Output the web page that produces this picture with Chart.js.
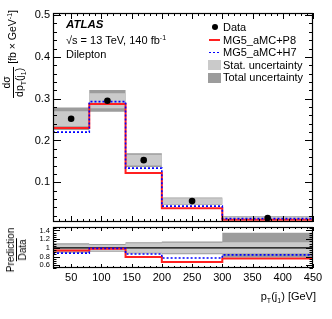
<!DOCTYPE html>
<html>
<head>
<meta charset="utf-8">
<script src="https://cdn.jsdelivr.net/npm/chart.js@4.4.0/dist/chart.umd.min.js"></script>
<style>
body{margin:0;background:#fff;width:332px;height:319px;position:relative;overflow:hidden;font-family:"Liberation Sans",Arial,sans-serif;color:#000}
canvas{position:absolute;left:0;top:0}
.t{position:absolute;white-space:nowrap;font-size:11px;line-height:12px}
.rot{position:absolute;white-space:nowrap;transform-origin:0 0;transform:rotate(-90deg) translateX(-100%)}
.rotc{position:absolute;white-space:nowrap;transform-origin:0 0;transform:rotate(-90deg) translateX(-50%)}
.frac{display:inline-flex;flex-direction:column;align-items:center;vertical-align:middle;line-height:1.1}
.den{border-top:1px solid #000;padding:0 1px}
sub{font-size:7px;vertical-align:-3px;line-height:0}
sup{font-size:7px;vertical-align:4px;line-height:0}
.mk{position:absolute}
</style>
</head>
<body>
<canvas id="mainChart" width="332" height="319"></canvas>
<canvas id="ratioChart" width="332" height="319"></canvas>

<div class="t" style="left:66px;top:18px;font-weight:bold;font-style:italic;font-size:11.5px">ATLAS</div>
<div class="t" style="left:66px;top:34px">√s = 13 TeV, 140 fb<sup>-1</sup></div>
<div class="t" style="left:66px;top:48px">Dilepton</div>

<div class="mk" style="left:212px;top:24px;width:6px;height:6px;border-radius:50%;background:#000"></div>
<div class="t" style="left:223px;top:21px">Data</div>
<div class="mk" style="left:209px;top:38.5px;width:11px;height:2px;background:#ff2020"></div>
<div class="t" style="left:223px;top:33.6px">MG5_aMC+P8</div>
<div class="mk" style="left:209px;top:51.5px;width:11px;height:1.5px;background:repeating-linear-gradient(90deg,#0000ff 0 2px,transparent 2px 4px)"></div>
<div class="t" style="left:223px;top:46.2px">MG5_aMC+H7</div>
<div class="mk" style="left:208px;top:60px;width:13px;height:10px;background:#cacaca"></div>
<div class="t" style="left:223px;top:58.8px">Stat. uncertainty</div>
<div class="mk" style="left:208px;top:72.5px;width:13px;height:10px;background:#9c9c9c"></div>
<div class="t" style="left:223px;top:71.4px">Total uncertainty</div>

<div class="rot" style="left:1px;top:10px;font-size:10.5px">
  <span class="frac"><span>dσ</span><span class="den">dp<sub>T</sub>(j<sub>1</sub>)</span></span> [fb × GeV<sup>-1</sup>]
</div>
<div class="rotc" style="left:5px;top:250px;font-size:10px">
  <span class="frac"><span>Prediction</span><span class="den">Data</span></span>
</div>
<div class="t" style="right:16px;top:290px">p<sub>T</sub>(j<sub>1</sub>) [GeV]</div>

<script>
// bins and values
const edges = [20, 80, 140, 200, 300, 450];
const binCenters = [50, 110, 170, 250, 375];
const dataVals = [0.252, 0.295, 0.153, 0.055, 0.0145];
const mgP8 = [0.230, 0.287, 0.122, 0.038, 0.0105];
const mgH7 = [0.220, 0.293, 0.134, 0.043, 0.0130];
const statErr = [0.018, 0.018, 0.013, 0.007, 0.0025];
const totErr = [0.027, 0.026, 0.0165, 0.0085, 0.0045];

const ratioP8 = [0.94, 0.98, 0.79, 0.68, 0.76];
const ratioH7 = [0.88, 0.99, 0.86, 0.77, 0.84];
const ratioStat = [0.08, 0.07, 0.11, 0.12, 0.13];
const ratioTotUp = [0.11, 0.09, 0.13, 0.145, 0.35];
const ratioTotDown = [0.11, 0.09, 0.13, 0.145, 0.22];

const xTicks = [50, 100, 150, 200, 250, 300, 350, 400, 450];
const yTicks = [0.1, 0.2, 0.3, 0.4, 0.5];
const ratioTicks = [0.6, 0.8, 1, 1.2, 1.4];

const FONT = "'Liberation Sans', Arial, sans-serif";
Chart.defaults.font.family = FONT;
Chart.defaults.color = '#000';

const STAT = '#cacaca', TOTAL = '#9c9c9c', RED = '#ff2020', BLUE = '#0000ff';

// histogram outline as x/y points (edges doubled)
function steps(vals){
  const pts = [];
  vals.forEach((v,i)=>{ pts.push({x:edges[i],y:v}); pts.push({x:edges[i+1],y:v}); });
  return pts;
}
const plus = (a,b,s)=>a.map((v,i)=>v+s*b[i]);

function line(data, color, width, dash, order){
  return {data, borderColor:color, borderWidth:width, borderDash:dash||[], pointRadius:0, fill:false, tension:0, order};
}
function bandPair(lo, hi, color, idxHi, order){
  return [
    {data:steps(hi), borderWidth:0, pointRadius:0, fill:false, order},
    {data:steps(lo), borderWidth:0, pointRadius:0, fill:idxHi, backgroundColor:color, order}
  ];
}

// frame + inward ticks on all four sides
function framePlugin(o){
  return {
    id:'frame',
    afterDatasetsDraw(chart){
      const {ctx, chartArea:a, scales:{x,y}} = chart;
      ctx.save();
      ctx.strokeStyle = '#000'; ctx.lineWidth = 1;
      ctx.beginPath();
      for(let i=0;;i++){
        const v = o.xStart + i*o.xMinor;
        if(v > x.max + 1e-9) break;
        const px = Math.round(x.getPixelForValue(v)) + 0.5;
        const len = Math.abs(v/o.xMajor - Math.round(v/o.xMajor)) < 1e-6 ? o.xMajLen : o.xMinLen;
        ctx.moveTo(px, a.bottom); ctx.lineTo(px, a.bottom - len);
        ctx.moveTo(px, a.top); ctx.lineTo(px, a.top + len);
      }
      for(let i=0;;i++){
        const v = o.yStart + i*o.yMinor;
        if(v > y.max + 1e-9) break;
        const py = Math.round(y.getPixelForValue(v)) + 0.5;
        const len = Math.abs(v/o.yMajor - Math.round(v/o.yMajor)) < 1e-6 ? o.yMajLen : o.yMinLen;
        ctx.moveTo(a.left, py); ctx.lineTo(a.left + len, py);
        ctx.moveTo(a.right, py); ctx.lineTo(a.right - len, py);
      }
      ctx.stroke();
      ctx.lineWidth = 1.2;
      ctx.strokeRect(Math.round(a.left)+0.5, Math.round(a.top)+0.5, Math.round(a.right-a.left)-1, Math.round(a.bottom-a.top)-1);
      ctx.restore();
    }
  };
}

// MAIN PANEL
const mainDatasets = [
  ...bandPair(plus(dataVals,totErr,-1), plus(dataVals,totErr,1), TOTAL, 0, 6),
  ...bandPair(plus(dataVals,statErr,-1), plus(dataVals,statErr,1), STAT, 2, 5),
  line(steps(mgP8), RED, 2, [], 3),
  line(steps(mgH7), BLUE, 1.6, [2,2], 2),
  {data:binCenters.map((c,i)=>({x:c,y:dataVals[i]})), showLine:false, pointRadius:3.3, pointBackgroundColor:'#000', pointBorderWidth:0, order:1}
];

new Chart(document.getElementById('mainChart'), {
  type:'line',
  data:{datasets:mainDatasets},
  options:{
    responsive:false, animation:false, events:[],
    layout:{padding:{left:0, top:13, right:19, bottom:0}},
    plugins:{legend:{display:false}, tooltip:{enabled:false}},
    scales:{
      x:{type:'linear', min:20, max:450, ticks:{display:false}, grid:{display:false}, border:{display:false},
         afterFit(s){ s.height = 97; }},
      y:{type:'linear', min:0.005, max:0.505, grid:{display:false, drawTicks:false}, border:{display:false},
         afterBuildTicks(s){ s.ticks = yTicks.map(v=>({value:v})); },
         ticks:{padding:3, font:{size:11}, autoSkip:false, callback:v=>v.toFixed(1)},
         afterFit(s){ s.width = 53; }}
    }
  },
  plugins:[framePlugin({xStart:20, xMinor:10, xMajor:50, xMajLen:6, xMinLen:3,
                        yStart:0.02, yMinor:0.02, yMajor:0.1, yMajLen:8, yMinLen:4})]
});

// RATIO PANEL
const ones = edges.slice(1).map(()=>1);
const ratioDatasets = [
  ...bandPair(plus(ones,ratioTotDown,-1), plus(ones,ratioTotUp,1), TOTAL, 0, 6),
  ...bandPair(plus(ones,ratioStat,-1), plus(ones,ratioStat,1), STAT, 2, 5),
  line(steps(ones), '#000', 1.2, [], 4),
  line(steps(ratioP8), RED, 2, [], 3),
  line(steps(ratioH7), BLUE, 1.6, [2,2], 2)
];

new Chart(document.getElementById('ratioChart'), {
  type:'line',
  data:{datasets:ratioDatasets},
  options:{
    responsive:false, animation:false, events:[],
    layout:{padding:{left:0, top:227, right:19, bottom:0}},
    plugins:{legend:{display:false}, tooltip:{enabled:false}},
    scales:{
      x:{type:'linear', min:20, max:450, grid:{display:false, drawTicks:false}, border:{display:false},
         afterBuildTicks(s){ s.ticks = xTicks.map(v=>({value:v})); },
         ticks:{padding:3, font:{size:11}, maxRotation:0, autoSkip:false},
         afterFit(s){ s.height = 51; }},
      y:{type:'linear', min:0.54, max:1.48, grid:{display:false, drawTicks:false}, border:{display:false},
         afterBuildTicks(s){ s.ticks = ratioTicks.map(v=>({value:v})); },
         ticks:{padding:3, font:{size:7.5}, autoSkip:false, callback:v=>(v===1?'1':v.toFixed(1))},
         afterFit(s){ s.width = 53; }}
    }
  },
  plugins:[framePlugin({xStart:20, xMinor:10, xMajor:50, xMajLen:4, xMinLen:2,
                        yStart:0.55, yMinor:0.05, yMajor:0.2, yMajLen:7, yMinLen:3.5})]
});
</script>
</body>
</html>
